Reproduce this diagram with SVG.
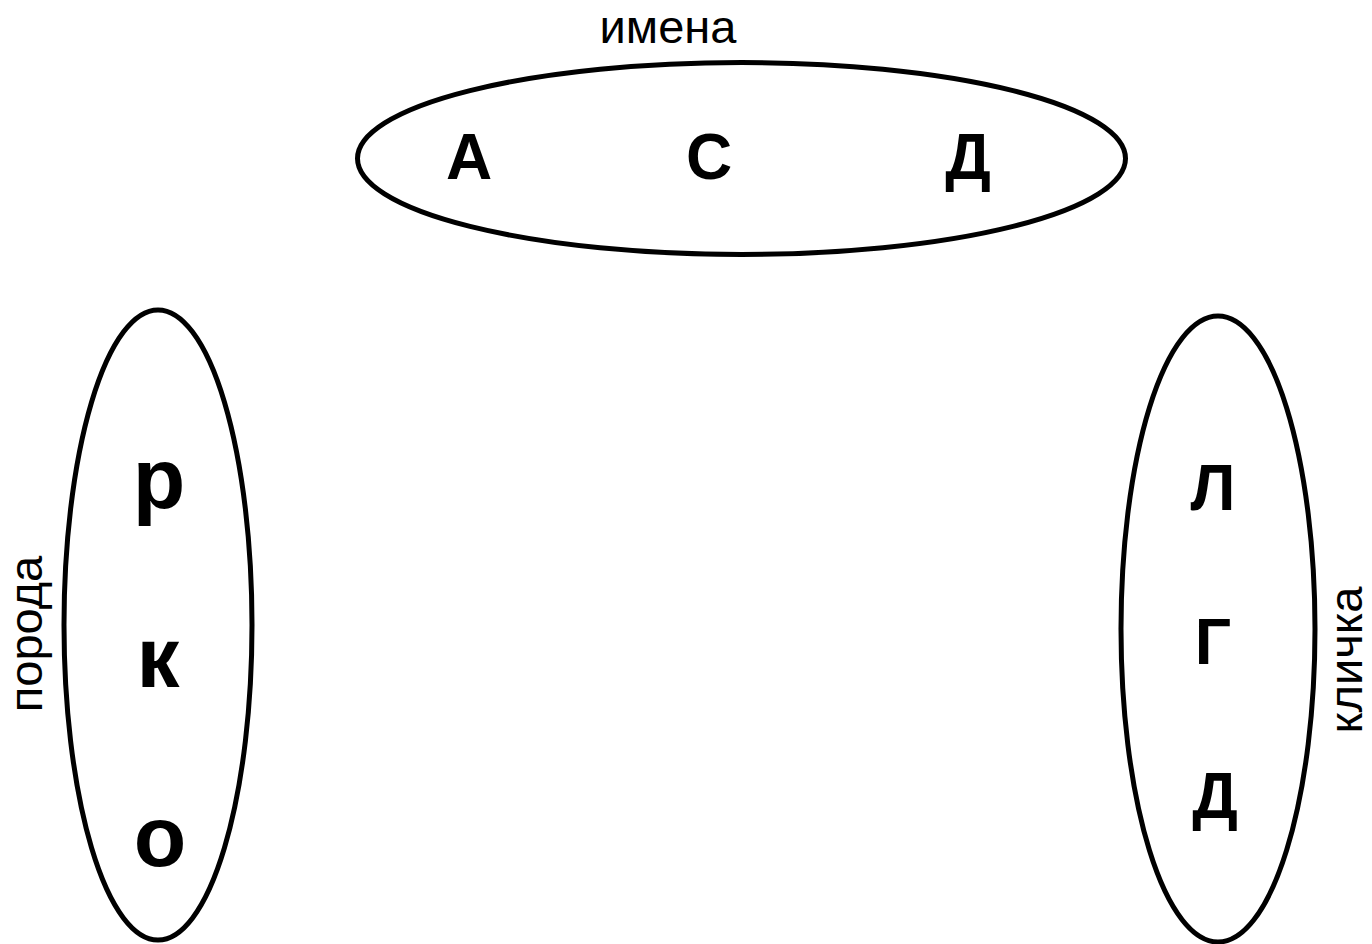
<svg xmlns="http://www.w3.org/2000/svg" width="1372" height="944" viewBox="0 0 1372 944">
<style>
.set{fill:none;stroke:#000;stroke-width:5}
.lbl{font-family:"Liberation Sans",Arial,sans-serif;font-size:47px;fill:#000;text-anchor:middle}
.big{font-family:"Liberation Sans",Arial,sans-serif;font-weight:bold;font-size:64px;fill:#000;text-anchor:middle}
.low{font-family:"Liberation Sans",Arial,sans-serif;font-weight:bold;font-size:86px;fill:#000;text-anchor:middle}
</style>
<rect width="1372" height="944" fill="#fff"/>
<g id="connectors"></g>
<g id="names">
<ellipse class="set" cx="741.5" cy="158.5" rx="384" ry="96"/>
<text class="lbl" x="668" y="43">имена</text>
<text class="big" x="469" y="179">А</text>
<text class="big" x="709" y="179">С</text>
<text class="big" x="968" y="179">Д</text>
</g>
<g id="breed">
<ellipse class="set" cx="158" cy="625" rx="94" ry="315"/>
<text class="lbl" transform="translate(42,634) rotate(-90)">порода</text>
<text class="low" x="159" y="508">р</text>
<text class="low" x="158" y="687">к</text>
<text class="low" x="160" y="866">о</text>
</g>
<g id="nickname">
<ellipse class="set" cx="1218" cy="629" rx="97" ry="313"/>
<text class="lbl" transform="translate(1362,660) rotate(-90)">кличка</text>
<text class="big" x="1213" y="510">Л</text>
<text class="big" x="1213" y="664">Г</text>
<text class="big" x="1215" y="818">Д</text>
</g>
</svg>
